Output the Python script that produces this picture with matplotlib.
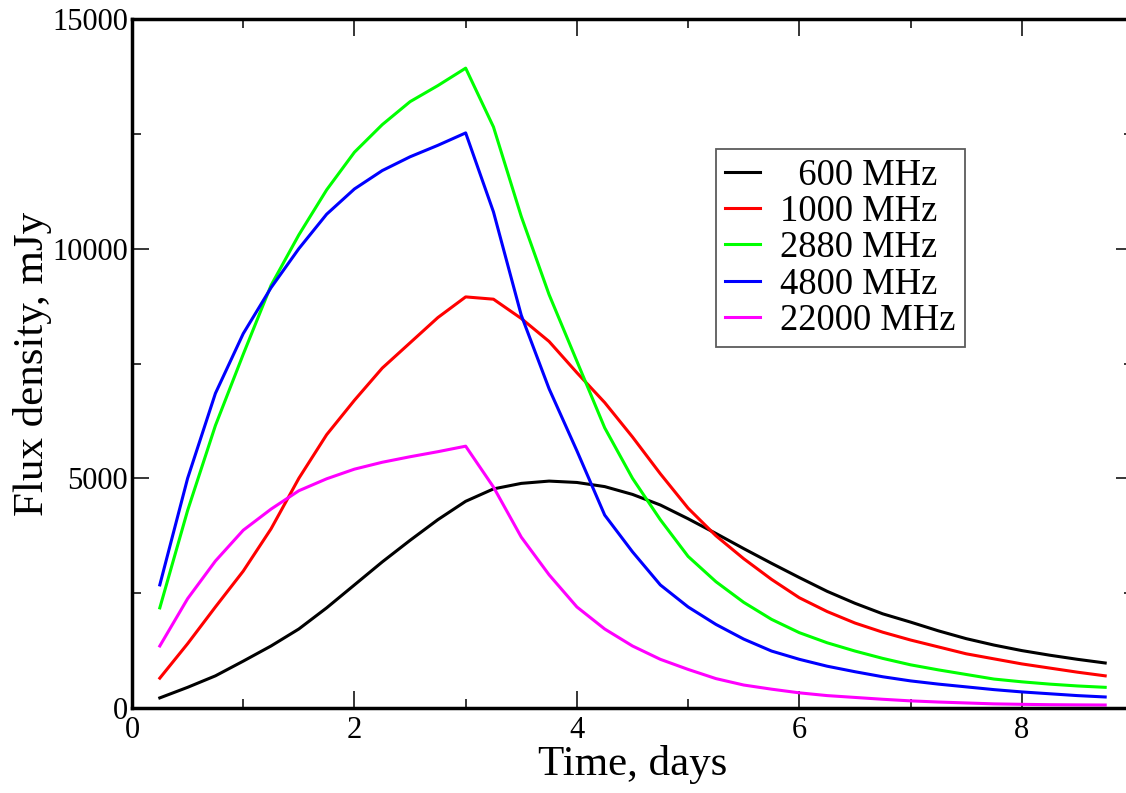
import matplotlib
matplotlib.use("Agg")
import matplotlib.pyplot as plt
from matplotlib.ticker import MultipleLocator

plt.rcParams['font.family'] = ['Liberation Serif', 'DejaVu Serif']

time_days = [0.25, 0.5, 0.75, 1.0, 1.25, 1.5, 1.75, 2.0, 2.25, 2.5, 2.75, 3.0,
             3.25, 3.5, 3.75, 4.0, 4.25, 4.5, 4.75, 5.0, 5.25, 5.5, 5.75, 6.0,
             6.25, 6.5, 6.75, 7.0, 7.25, 7.5, 7.75, 8.0, 8.25, 8.5, 8.75]

flux_600 = [220, 450, 700, 1020, 1350, 1720, 2180, 2680, 3180, 3650, 4100, 4500,
            4770, 4890, 4940, 4910, 4820, 4650, 4420, 4120, 3800, 3470, 3150, 2840,
            2540, 2280, 2050, 1870, 1680, 1510, 1370, 1250, 1150, 1060, 980]
flux_1000 = [650, 1400, 2200, 2980, 3900, 5000, 5950, 6700, 7400, 7950, 8500, 8950,
             8900, 8480, 7980, 7300, 6650, 5900, 5100, 4350, 3750, 3250, 2800, 2400,
             2100, 1850, 1650, 1480, 1330, 1180, 1070, 960, 870, 780, 700]
flux_2880 = [2180, 4300, 6150, 7700, 9200, 10300, 11280, 12100, 12700, 13200, 13550, 13930,
             12650, 10700, 9000, 7550, 6100, 5000, 4100, 3300, 2750, 2300, 1930, 1640,
             1420, 1240, 1080, 940, 830, 730, 630, 570, 520, 480, 450]
flux_4800 = [2680, 5000, 6850, 8150, 9150, 10000, 10750, 11300, 11700, 12000, 12250, 12520,
             10800, 8550, 6950, 5600, 4200, 3400, 2680, 2200, 1820, 1500, 1240, 1060,
             910, 790, 680, 590, 520, 460, 400, 350, 310, 270, 240]
flux_22000 = [1350, 2380, 3200, 3870, 4330, 4730, 4990, 5200, 5350, 5470, 5580, 5700,
              4810, 3720, 2900, 2200, 1720, 1350, 1060, 840, 640, 500, 410, 330,
              270, 230, 190, 155, 130, 110, 90, 80, 72, 68, 65]

labels = ["  600 MHz", "1000 MHz", "2880 MHz", "4800 MHz", "22000 MHz"]
colors = ["#000000", "#ff0000", "#00ff00", "#0000ff", "#ff00ff"]
series = [flux_600, flux_1000, flux_2880, flux_4800, flux_22000]

W, H = 1126, 793
fig = plt.figure(figsize=(W / 100, H / 100), dpi=100)
ax = fig.add_axes([132 / W, (H - 708) / H, (1133 - 132) / W, (708 - 19) / H])

for ys, c, lab in zip(series, colors, labels):
    ax.plot(time_days, ys, color=c, lw=2.2, label=lab)

ax.set_xlim(0, 9)
ax.set_ylim(0, 15000)
ax.xaxis.set_major_locator(MultipleLocator(2))
ax.xaxis.set_minor_locator(MultipleLocator(1))
ax.yaxis.set_major_locator(MultipleLocator(5000))
ax.yaxis.set_minor_locator(MultipleLocator(2500))
ax.tick_params(which='both', direction='in', top=True, right=True, width=1.1)
ax.tick_params(which='major', length=12, labelsize=22)
ax.tick_params(axis='y', which='major', pad=3)
ax.tick_params(axis='x', which='major', pad=6)
ax.tick_params(which='minor', length=6.5)
for s in ax.spines.values():
    s.set_linewidth(2.5)

ax.set_xlabel("Time, days", fontsize=31, labelpad=0)
ax.set_ylabel("Flux density, mJy", fontsize=31)
ax.yaxis.set_label_coords(-0.080, 0.5)

leg = ax.legend(loc='upper left', bbox_to_anchor=(716 / W, 1 - 149 / H),
                bbox_transform=fig.transFigure, fontsize=26.3, frameon=True,
                fancybox=False, shadow=False, handlelength=0.95,
                handletextpad=0.55, labelspacing=0.05, borderpad=0.25,
                borderaxespad=0)
leg.get_frame().set_edgecolor('#333333')
leg.get_frame().set_linewidth(1.3)

fig.savefig("out.png", dpi=100)
